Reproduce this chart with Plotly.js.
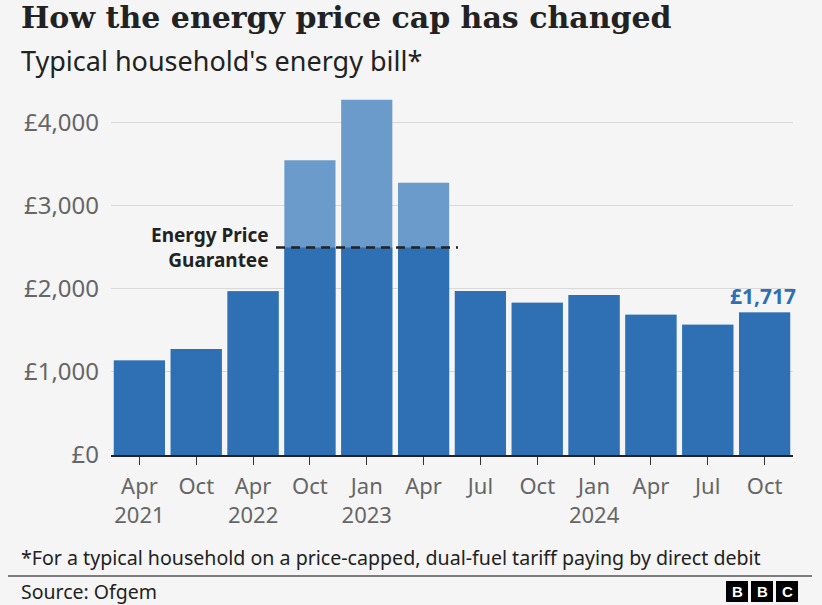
<!DOCTYPE html>
<html>
<head>
<meta charset="utf-8">
<script src="https://cdn.plot.ly/plotly-3.0.1.min.js"></script>
<style>
  html, body { margin: 0; padding: 0; background: #f5f5f5; }
  #chart { width: 822px; height: 605px; }
</style>
</head>
<body>
<div id="chart"></div>
<script>
// ---- Data ----
const periods = ["Apr 2021", "Oct 2021", "Apr 2022", "Oct 2022", "Jan 2023", "Apr 2023",
                 "Jul 2023", "Oct 2023", "Jan 2024", "Apr 2024", "Jul 2024", "Oct 2024"];
const monthLabels = ["Apr", "Oct", "Apr", "Oct", "Jan", "Apr", "Jul", "Oct", "Jan", "Apr", "Jul", "Oct"];
const yearLabels = ["2021", "", "2022", "", "2023", "", "", "", "2024", "", "", ""];
const capValues = [1138, 1277, 1971, 3549, 4279, 3280, 1976, 1834, 1928, 1690, 1568, 1717];
const paidValues = [1138, 1277, 1971, 2500, 2500, 2500, 1976, 1834, 1928, 1690, 1568, 1717];
const guaranteeValue = 2500;
const yTickVals = [0, 1000, 2000, 3000, 4000];
const yTickText = ["£0", "£1,000", "£2,000", "£3,000", "£4,000"];
const lastLabel = "£1,717";

// tick text built from the month and year lists
const tickText = monthLabels.map((m, i) => m + "<br>" + (yearLabels[i] || " "));

// ---- Layout geometry ----
const W = 822, H = 605;
const M = { l: 111, r: 29, t: 98, b: 150 };
const pw = W - M.l - M.r, ph = H - M.t - M.b;
const px = v => (v - M.l) / pw;          // pixel x -> paper
const py = v => (H - M.b - v) / ph;      // pixel y -> paper
const pitch = pw / periods.length;
const catX = v => (v - M.l) / pitch - 0.5; // pixel x -> category index

const DARK = "#2e70b3";
const LIGHT = "#6a9bcb";
const SANS = "'Noto Sans', Lato, sans-serif";
const SERIF = "'DejaVu Serif', 'Liberation Serif', serif";

const traces = [
  { type: "bar", x: periods, y: capValues, marker: { color: LIGHT }, hoverinfo: "skip", showlegend: false },
  { type: "bar", x: periods, y: paidValues, marker: { color: DARK }, hoverinfo: "skip", showlegend: false }
];

const bbc = ["B", "B", "C"];
const logoShapes = bbc.map((c, i) => ({
  type: "rect", xref: "paper", yref: "paper", layer: "above",
  x0: px(726 + i * 25), x1: px(726 + i * 25 + 22), y0: py(581), y1: py(602),
  fillcolor: "#000", line: { width: 0 }
}));
const logoText = bbc.map((c, i) => ({
  xref: "paper", yref: "paper", x: px(726 + i * 25 + 11), y: py(591.5),
  xanchor: "center", yanchor: "middle", showarrow: false, text: "<b>" + c + "</b>",
  font: { family: "'Liberation Sans', Arial, sans-serif", size: 15, color: "#fff" }
}));

const layout = {
  width: W, height: H,
  margin: M,
  paper_bgcolor: "#f5f5f5", plot_bgcolor: "#f5f5f5",
  barmode: "overlay", bargap: 0.1,
  showlegend: false,
  xaxis: {
    type: "category", tickvals: periods, ticktext: tickText,
    range: [-0.5, periods.length - 0.5], autorange: false,
    showgrid: false, zeroline: false,
    showline: true, linecolor: "#222", linewidth: 2,
    ticks: "outside", ticklen: 8, tickcolor: "#333", tickwidth: 1,
    ticklabelstandoff: 3,
    tickfont: { family: SANS, size: 22, color: "#666" },
    fixedrange: true
  },
  yaxis: {
    range: [0, 4300], autorange: false, tickvals: yTickVals, ticktext: yTickText,
    showgrid: true, gridcolor: "#d9d9d9", gridwidth: 1,
    zeroline: false, showline: false, ticks: "", ticklabelstandoff: 11,
    tickfont: { family: SANS, size: 24, color: "#666" },
    fixedrange: true
  },
  shapes: [
    { type: "line", xref: "x", yref: "y", x0: catX(276), x1: catX(458), y0: guaranteeValue, y1: guaranteeValue,
      line: { color: "#222", width: 2.5, dash: "9px,6px" }, layer: "above" },
    { type: "line", xref: "paper", yref: "paper", x0: px(8), x1: px(812), y0: py(576), y1: py(576),
      line: { color: "#555", width: 1.5 } }
  ].concat(logoShapes),
  annotations: [
    { xref: "paper", yref: "paper", x: px(19), y: py(18), xanchor: "left", yanchor: "middle", showarrow: false,
      text: "<b>How the energy price cap has changed</b>",
      font: { family: SERIF, size: 30, color: "#222" } },
    { xref: "paper", yref: "paper", x: px(19), y: py(61), xanchor: "left", yanchor: "middle", showarrow: false,
      text: "Typical household's energy bill*",
      font: { family: SANS, size: 27, color: "#222" } },
    { xref: "paper", yref: "paper", x: px(271), y: py(248), xanchor: "right", yanchor: "middle", showarrow: false,
      align: "right", text: "<b>Energy Price<br>Guarantee</b>",
      font: { family: SANS, size: 19, color: "#222" } },
    { xref: "x", yref: "y", x: periods[periods.length - 1], y: capValues[capValues.length - 1],
      yshift: 16, xshift: -1.5, xanchor: "center", yanchor: "middle", showarrow: false,
      text: "<b>" + lastLabel + "</b>",
      font: { family: SANS, size: 21, color: DARK } },
    { xref: "paper", yref: "paper", x: px(19), y: py(557), xanchor: "left", yanchor: "middle", showarrow: false,
      text: "*For a typical household on a price-capped, dual-fuel tariff paying by direct debit",
      font: { family: SANS, size: 19.6, color: "#222" } },
    { xref: "paper", yref: "paper", x: px(19), y: py(591), xanchor: "left", yanchor: "middle", showarrow: false,
      text: "Source: Ofgem",
      font: { family: SANS, size: 19.5, color: "#222" } }
  ].concat(logoText)
};

Plotly.newPlot("chart", traces, layout, { staticPlot: true, displayModeBar: false });
</script>
</body>
</html>
